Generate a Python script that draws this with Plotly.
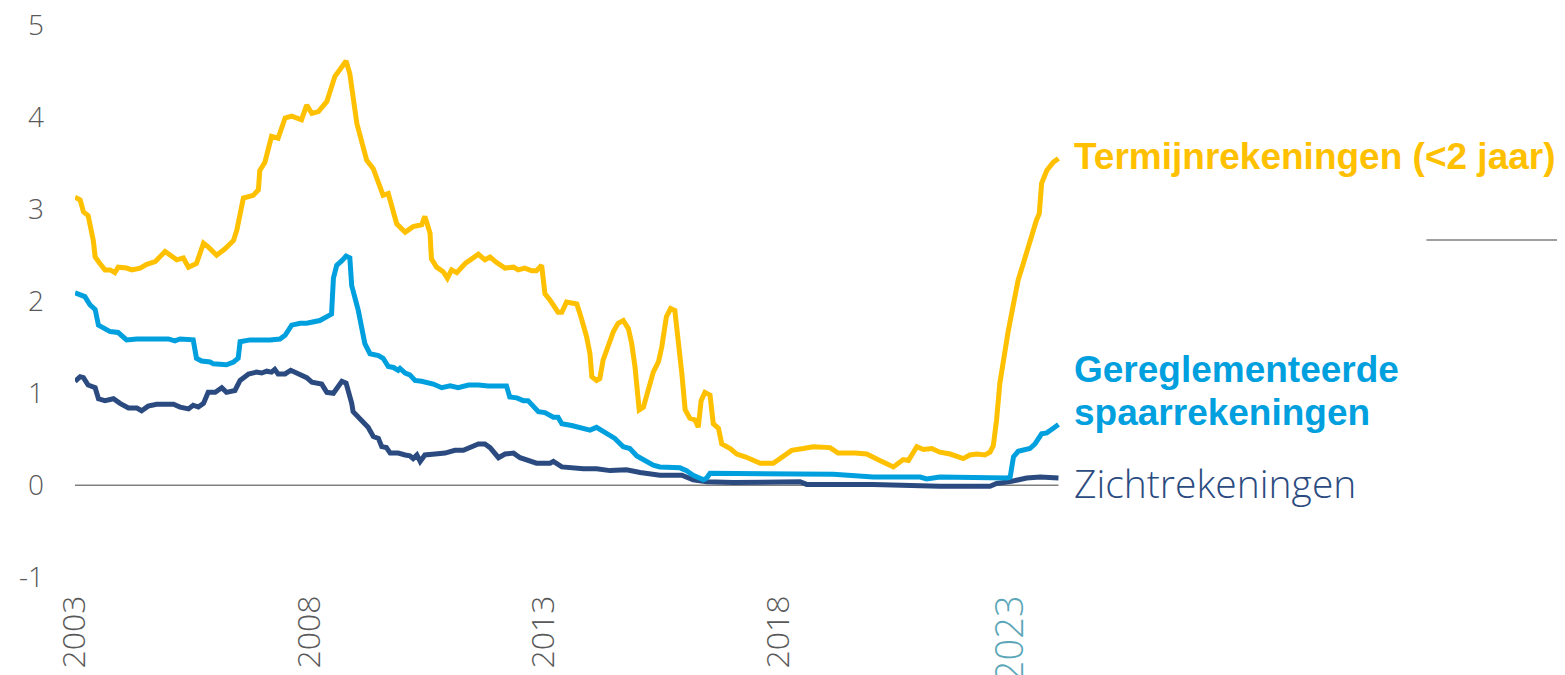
"""Rente op spaarproducten: termijn-, gereglementeerde en zichtrekeningen"""
import plotly.graph_objects as go

# decimal years / rates (%)
term_x = [2003.00, 2003.11, 2003.18, 2003.28, 2003.39, 2003.43, 2003.53, 2003.64, 2003.75, 2003.85,
          2003.92, 2004.10, 2004.21, 2004.39, 2004.53, 2004.71, 2004.92, 2005.17, 2005.31, 2005.42,
          2005.59, 2005.74, 2005.84, 2006.02, 2006.20, 2006.38, 2006.45, 2006.59, 2006.80, 2006.91,
          2006.94, 2007.05, 2007.19, 2007.33, 2007.48, 2007.62, 2007.83, 2007.94, 2008.05, 2008.19,
          2008.37, 2008.54, 2008.78, 2008.86, 2009.01, 2009.22, 2009.36, 2009.57, 2009.68, 2009.86,
          2010.04, 2010.21, 2010.39, 2010.46, 2010.57, 2010.60, 2010.71, 2010.85, 2010.94, 2011.03,
          2011.14, 2011.32, 2011.46, 2011.60, 2011.74, 2011.85, 2011.99, 2012.17, 2012.35, 2012.45,
          2012.59, 2012.74, 2012.84, 2012.95, 2013.02, 2013.13, 2013.30, 2013.38, 2013.48, 2013.70,
          2013.80, 2013.91, 2013.98, 2014.02, 2014.12, 2014.19, 2014.26, 2014.37, 2014.48, 2014.58,
          2014.69, 2014.80, 2014.87, 2014.94, 2015.03, 2015.12, 2015.22, 2015.33, 2015.44, 2015.51,
          2015.61, 2015.70, 2015.79, 2015.86, 2015.94, 2016.01, 2016.11, 2016.22, 2016.29, 2016.35,
          2016.43, 2016.54, 2016.61, 2016.72, 2016.79, 2016.97, 2017.11, 2017.29, 2017.39, 2017.61,
          2017.89, 2018.03, 2018.28, 2018.53, 2018.74, 2019.10, 2019.27, 2019.63, 2019.88, 2020.16,
          2020.45, 2020.66, 2020.77, 2020.95, 2021.09, 2021.27, 2021.44, 2021.66, 2021.94, 2022.08,
          2022.23, 2022.40, 2022.51, 2022.58, 2022.65, 2022.72, 2022.79, 2022.90, 2023.01, 2023.11,
          2023.22, 2023.36, 2023.50, 2023.56, 2023.61, 2023.72, 2023.86, 2023.97]
term_y = [3.13, 3.10, 2.97, 2.93, 2.66, 2.48, 2.41, 2.34, 2.34, 2.31,
          2.37, 2.36, 2.34, 2.36, 2.40, 2.43, 2.54, 2.45, 2.47, 2.37,
          2.41, 2.63, 2.59, 2.50, 2.57, 2.66, 2.77, 3.12, 3.15, 3.21,
          3.42, 3.51, 3.79, 3.77, 3.99, 4.01, 3.97, 4.13, 4.04, 4.06,
          4.17, 4.44, 4.61, 4.47, 3.93, 3.53, 3.44, 3.15, 3.17, 2.84,
          2.75, 2.81, 2.83, 2.92, 2.74, 2.46, 2.37, 2.32, 2.25, 2.34,
          2.31, 2.41, 2.46, 2.51, 2.45, 2.48, 2.42, 2.36, 2.37, 2.34,
          2.36, 2.33, 2.33, 2.39, 2.08, 2.01, 1.88, 1.88, 1.99, 1.97,
          1.81, 1.61, 1.43, 1.18, 1.14, 1.16, 1.36, 1.50, 1.67, 1.76,
          1.79, 1.70, 1.54, 1.29, 0.82, 0.85, 1.05, 1.23, 1.34, 1.50,
          1.83, 1.92, 1.90, 1.61, 1.21, 0.82, 0.73, 0.71, 0.63, 0.92,
          1.01, 0.98, 0.67, 0.62, 0.45, 0.40, 0.34, 0.31, 0.29, 0.24,
          0.24, 0.29, 0.38, 0.40, 0.42, 0.41, 0.35, 0.35, 0.34, 0.27,
          0.20, 0.28, 0.27, 0.42, 0.39, 0.40, 0.36, 0.34, 0.29, 0.33,
          0.34, 0.33, 0.36, 0.43, 0.71, 1.11, 1.36, 1.68, 1.97, 2.23,
          2.41, 2.66, 2.88, 2.95, 3.28, 3.42, 3.51, 3.55]

spaar_x = [2003.00, 2003.14, 2003.21, 2003.32, 2003.43, 2003.50, 2003.75, 2003.92, 2004.10, 2004.32,
           2004.99, 2005.13, 2005.24, 2005.52, 2005.59, 2005.70, 2005.88, 2005.95, 2006.23, 2006.38,
           2006.48, 2006.52, 2006.73, 2007.16, 2007.37, 2007.48, 2007.62, 2007.80, 2007.94, 2008.22,
           2008.37, 2008.47, 2008.51, 2008.58, 2008.69, 2008.78, 2008.86, 2008.90, 2009.04, 2009.18,
           2009.29, 2009.47, 2009.57, 2009.68, 2009.79, 2009.89, 2009.93, 2010.04, 2010.14, 2010.25,
           2010.39, 2010.53, 2010.64, 2010.82, 2011.00, 2011.17, 2011.39, 2011.60, 2011.81, 2012.20,
           2012.27, 2012.42, 2012.56, 2012.66, 2012.88, 2013.02, 2013.20, 2013.30, 2013.38, 2013.59,
           2013.80, 2013.98, 2014.12, 2014.41, 2014.51, 2014.69, 2014.83, 2014.98, 2015.19, 2015.33,
           2015.47, 2015.90, 2016.04, 2016.18, 2016.40, 2016.47, 2016.54, 2017.04, 2017.32, 2019.17,
           2020.02, 2021.02, 2021.16, 2021.44, 2022.87, 2022.94, 2023.01, 2023.11, 2023.36, 2023.47,
           2023.61, 2023.72, 2023.86, 2023.97]
spaar_y = [2.09, 2.07, 2.05, 1.96, 1.91, 1.74, 1.67, 1.66, 1.58, 1.59,
           1.59, 1.57, 1.59, 1.58, 1.38, 1.35, 1.34, 1.32, 1.31, 1.34,
           1.38, 1.56, 1.58, 1.58, 1.59, 1.63, 1.74, 1.76, 1.76, 1.79,
           1.83, 1.86, 2.25, 2.39, 2.44, 2.49, 2.47, 2.17, 1.90, 1.54,
           1.43, 1.41, 1.38, 1.29, 1.28, 1.25, 1.27, 1.22, 1.20, 1.14,
           1.13, 1.11, 1.10, 1.06, 1.08, 1.06, 1.09, 1.09, 1.08, 1.08,
           0.96, 0.95, 0.92, 0.92, 0.80, 0.79, 0.74, 0.74, 0.67, 0.65,
           0.63, 0.60, 0.63, 0.53, 0.51, 0.42, 0.40, 0.32, 0.26, 0.22,
           0.20, 0.19, 0.16, 0.11, 0.06, 0.08, 0.13, 0.13, 0.12, 0.12,
           0.09, 0.09, 0.07, 0.09, 0.08, 0.09, 0.31, 0.37, 0.40, 0.45,
           0.56, 0.57, 0.62, 0.66]

zicht_x = [2003.00, 2003.11, 2003.18, 2003.28, 2003.43, 2003.50, 2003.64, 2003.82, 2003.96, 2004.14,
           2004.32, 2004.42, 2004.56, 2004.74, 2005.10, 2005.24, 2005.42, 2005.52, 2005.63, 2005.74,
           2005.84, 2005.99, 2006.13, 2006.23, 2006.41, 2006.52, 2006.70, 2006.87, 2006.98, 2007.09,
           2007.19, 2007.26, 2007.33, 2007.48, 2007.60, 2007.73, 2007.94, 2008.05, 2008.26, 2008.37,
           2008.51, 2008.69, 2008.78, 2008.90, 2008.93, 2009.08, 2009.25, 2009.36, 2009.47, 2009.54,
           2009.64, 2009.72, 2009.89, 2010.04, 2010.14, 2010.21, 2010.29, 2010.36, 2010.46, 2010.68,
           2010.89, 2011.10, 2011.28, 2011.46, 2011.60, 2011.74, 2011.85, 2012.03, 2012.17, 2012.35,
           2012.49, 2012.84, 2013.13, 2013.20, 2013.38, 2013.84, 2014.12, 2014.41, 2014.76, 2015.05,
           2015.47, 2015.94, 2016.18, 2016.47, 2017.04, 2018.46, 2018.60, 2020.01, 2021.44, 2022.51,
           2022.65, 2022.94, 2023.29, 2023.58, 2023.72, 2023.97]
zicht_y = [1.13, 1.18, 1.17, 1.09, 1.06, 0.94, 0.92, 0.94, 0.89, 0.84,
           0.84, 0.81, 0.86, 0.88, 0.88, 0.85, 0.83, 0.87, 0.85, 0.89,
           1.01, 1.01, 1.06, 1.01, 1.03, 1.14, 1.21, 1.23, 1.22, 1.24,
           1.23, 1.26, 1.21, 1.21, 1.25, 1.22, 1.17, 1.12, 1.10, 1.01,
           1.00, 1.13, 1.11, 0.89, 0.80, 0.72, 0.63, 0.53, 0.51, 0.42,
           0.41, 0.35, 0.35, 0.33, 0.32, 0.29, 0.33, 0.26, 0.33, 0.34,
           0.35, 0.38, 0.38, 0.42, 0.45, 0.45, 0.41, 0.30, 0.34, 0.35,
           0.30, 0.24, 0.24, 0.26, 0.20, 0.18, 0.18, 0.16, 0.17, 0.14,
           0.11, 0.11, 0.06, 0.04, 0.03, 0.04, 0.01, 0.01, -0.01, -0.01,
           0.02, 0.04, 0.08, 0.09, 0.09, 0.08]

year_ticks = [2003, 2008, 2013, 2018, 2023]
y_ticks = [-1, 0, 1, 2, 3, 4, 5]
y_tick_text = ["-1", "0", "1", "2", "3", "4", "5"]

YELLOW = "#FFC000"
BLUE = "#00A0DF"
NAVY = "#2B4B80"
GREY = "#595959"

fig = go.Figure()
for xs, ys, col, name in [
    (zicht_x, zicht_y, NAVY, "Zichtrekeningen"),
    (spaar_x, spaar_y, BLUE, "Gereglementeerde spaarrekeningen"),
    (term_x, term_y, YELLOW, "Termijnrekeningen (<2 jaar)"),
]:
    fig.add_trace(go.Scatter(x=xs, y=ys, mode="lines", name=name,
                             line=dict(color=col, width=5), hoverinfo="skip"))

# zero line under the series
fig.add_shape(type="line", xref="x", yref="y", x0=term_x[0], x1=term_x[-1], y0=0, y1=0,
              line=dict(color="#808080", width=1.5), layer="below")
# small decorative rule at the right
fig.add_shape(type="line", xref="paper", yref="paper", x0=0.907, x1=1.0, y0=0.596, y1=0.596,
              line=dict(color="#808080", width=1.5))

label_x = 2024.25
bold = dict(family="Liberation Sans", size=37)
fig.add_annotation(x=label_x, y=3.57, xref="x", yref="y", xanchor="left", yanchor="middle",
                   text="<b>Termijnrekeningen (&lt;2 jaar)</b>", showarrow=False,
                   font=dict(**bold, color=YELLOW))
fig.add_annotation(x=label_x, y=1.26, xref="x", yref="y", xanchor="left", yanchor="middle",
                   text="<b>Gereglementeerde</b>", showarrow=False, font=dict(**bold, color=BLUE))
fig.add_annotation(x=label_x, y=0.79, xref="x", yref="y", xanchor="left", yanchor="middle",
                   text="<b>spaarrekeningen</b>", showarrow=False, font=dict(**bold, color=BLUE))
fig.add_annotation(x=label_x, y=0.03, xref="x", yref="y", xanchor="left", yanchor="middle",
                   text="Zichtrekeningen", showarrow=False,
                   font=dict(family="Open Sans", size=39, color=NAVY, weight=300))

tick_text = [str(t) for t in year_ticks[:-1]] + [
    f"<span style='color:#5BA6B8;font-size:38px'>{year_ticks[-1]}</span>"]

fig.update_layout(
    width=1557, height=667,
    margin=dict(l=67, r=0, t=0, b=93),
    paper_bgcolor="white", plot_bgcolor="white",
    showlegend=False,
    font=dict(family="Open Sans", color=GREY, size=28, weight=300),
    xaxis=dict(range=[2003, 2034.77], tickvals=year_ticks, ticktext=tick_text, tickangle=-90,
               showgrid=False, zeroline=False, showline=False, ticks="", ticklabelstandoff=6,
               tickfont=dict(size=32, color=GREY), automargin=False, ticklabeloverflow="allow"),
    yaxis=dict(range=[-1.05, 5.185], tickvals=y_ticks, ticktext=y_tick_text, showgrid=False,
               zeroline=False, showline=False, ticks="", ticklabelstandoff=30,
               tickfont=dict(size=28, color=GREY), automargin=False, ticklabeloverflow="allow"),
)

fig.write_html("out.html")
